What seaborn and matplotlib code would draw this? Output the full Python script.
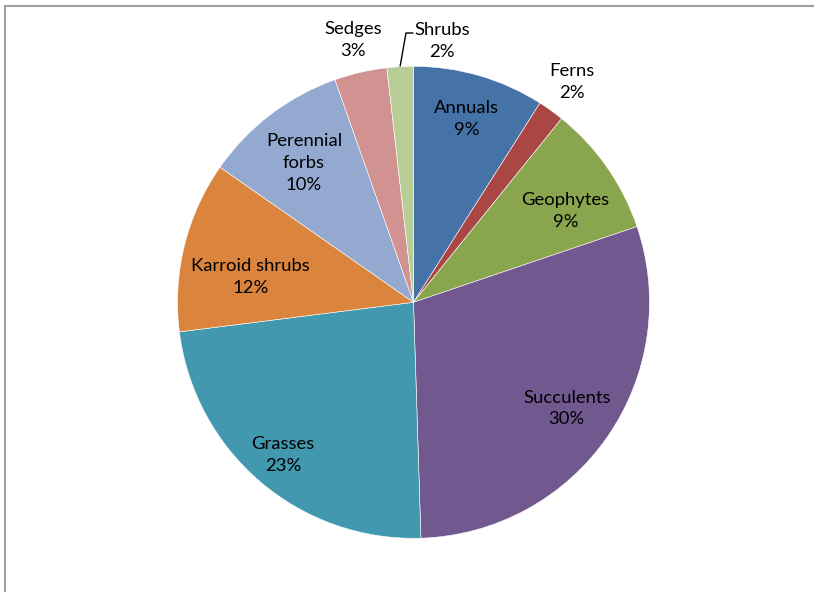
import numpy as np
import matplotlib
matplotlib.use("Agg")
import matplotlib.pyplot as plt
from matplotlib.patches import Rectangle
import seaborn as sns

categories = ["Annuals", "Ferns", "Geophytes", "Succulents", "Grasses",
              "Karroid shrubs", "Perennial forbs", "Sedges", "Shrubs"]
values = [9.0, 1.8, 9.0, 29.7, 23.5, 11.7, 9.9, 3.6, 1.8]
pct_labels = ["9%", "2%", "9%", "30%", "23%", "12%", "10%", "3%", "2%"]
label_names = ["Annuals", "Ferns", "Geophytes", "Succulents", "Grasses",
               "Karroid shrubs", "Perennial\nforbs", "Sedges", "Shrubs"]
colors = ["#4572A7", "#AA4643", "#89A54E", "#71588F", "#4198AF",
          "#DB843D", "#93A9CF", "#D19392", "#B9CD96"]

sns.set_theme(style="white")
plt.rcParams['font.family'] = ['Lato', 'DejaVu Sans']

W, H = 814, 592
fig = plt.figure(figsize=(W / 100, H / 100), dpi=100)
cx, cy, r = 413.5, 302.3, 236
ax = fig.add_axes([(cx - r) / W, (H - cy - r) / H, 2 * r / W, 2 * r / H])

wedges, _ = ax.pie(values, colors=colors, startangle=90, counterclock=False,
                   radius=1, wedgeprops=dict(edgecolor="white", linewidth=0.4))
ax.set_xlim(-1, 1)
ax.set_ylim(-1, 1)

# label radial fractions (layout)
label_r = [0.81, 1.15, 0.75, 0.79, 0.85, 0.70, 0.75, 1.14, 1.11]
angle_adj = [0, 0, 4, 0, 0, -5, -1, 0, 0]
total = sum(values)
cum = 0
for i, v in enumerate(values):
    mid = (cum + v / 2) / total * 360 + angle_adj[i]
    cum += v
    rr = label_r[i]
    if categories[i] == "Shrubs":
        x, y = (442 - cx) / r, (cy - 41) / r
    else:
        x = rr * np.sin(np.radians(mid))
        y = rr * np.cos(np.radians(mid))
    ax.text(x, y, f"{label_names[i]}\n{pct_labels[i]}", ha="center", va="center",
            fontsize=13.3, color="black", linespacing=1.45, clip_on=False)

# leader line for Shrubs
sh_start = (sum(values[:-1]) + values[-1] / 2) / total * 360
px, py = np.sin(np.radians(sh_start)), np.cos(np.radians(sh_start))
lx0, ly0 = (406 - cx) / r, (cy - 33) / r
lx1 = (413 - cx) / r
ax.plot([px, lx0, lx1], [py + 0.003, ly0, ly0], color="black", lw=1, clip_on=False)

fig.patches.append(Rectangle((5 / W, -0.05), 1.2, 1.05 - 6 / H, transform=fig.transFigure,
                             fill=False, edgecolor="#A0A0A0", linewidth=1.5))

fig.savefig("out.png", dpi=100)
